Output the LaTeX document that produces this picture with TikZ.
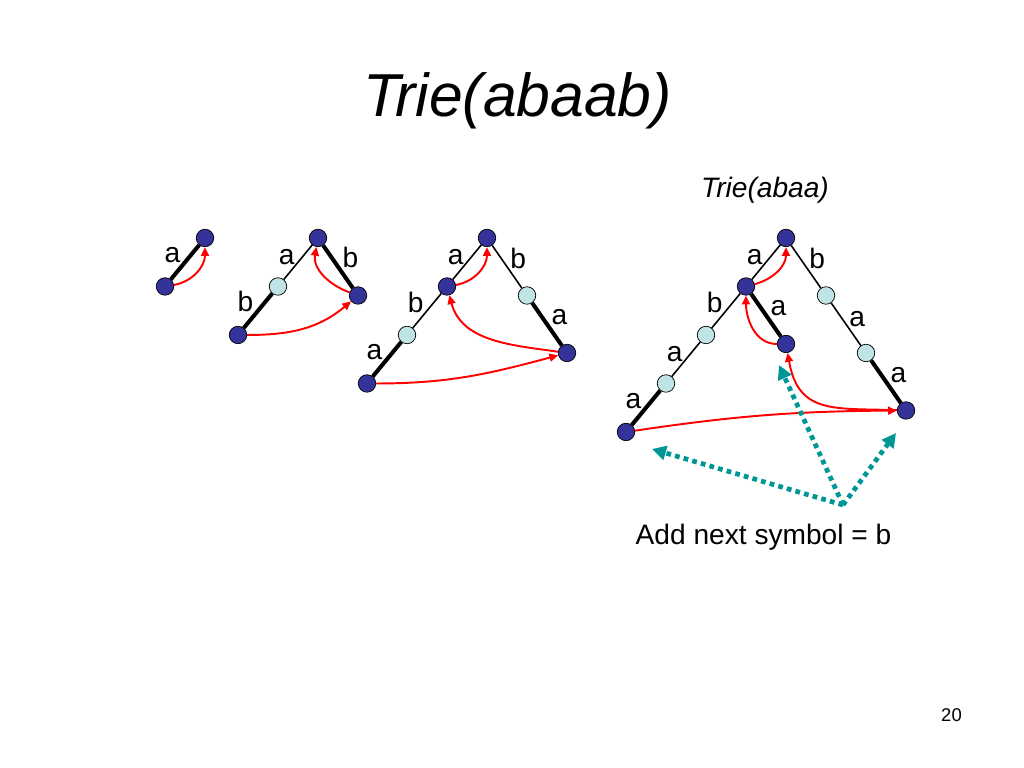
\documentclass[tikz,border=0pt]{standalone}
\usepackage{fontspec}
\setmainfont{Liberation Sans}
\usetikzlibrary{positioning,arrows.meta}
\definecolor{nodeblue}{RGB}{51,51,153}
\definecolor{nodecyan}{RGB}{190,228,230}
\definecolor{hintteal}{RGB}{0,150,150}

\begin{document}
\begin{tikzpicture}[auto,node distance=0.97cm and 0.8cm,on grid,
  dark/.style={circle,draw,fill=nodeblue,inner sep=0pt,minimum size=0.35cm},
  light/.style={circle,draw,fill=nodecyan,inner sep=0pt,minimum size=0.35cm},
  tie/.style={line width=0.9pt},
  hard/.style={line width=2.3pt},
  lbl/.style={font=\fontsize{16}{19}\selectfont,inner sep=1.5pt,text height=11.5pt,text depth=0pt,yshift=-3pt},
  lnk/.style={-{Triangle[length=5pt,width=4.5pt]},red,line width=1.1pt},
  hint/.style={-{Triangle[length=8pt,width=8pt]},hintteal,line width=2.7pt,dash pattern=on 2.7pt off 2.4pt}]

\useasboundingbox (0,0) rectangle (20.48,15.36);

\node[font=\fontsize{34.5}{40}\selectfont\itshape,anchor=base](title) at (10.35,13.02){Trie(abaab)};
\node[font=\fontsize{16}{19}\selectfont\itshape,anchor=base](sub) at (15.30,11.40){Trie(abaa)};
\node[font=\fontsize{16}{19}\selectfont,anchor=base](note) at (15.27,4.46){Add next symbol = b};
\node[font=\fontsize{10.5}{12}\selectfont,anchor=base](pg) at (19.03,0.92){20};

% trie(a)
\node[dark](r1) at (4.10,10.60){};
\node[dark](c1)[below left=of r1]{};
% trie(ab)
\node[dark](r2) at (6.36,10.60){};
\node[light](p2)[below left=of r2]{};
\node[dark](q2)[below left=of p2]{};
\node[dark](s2)[below right=1.15cm and 0.8cm of r2]{};
% trie(aba)
\node[dark](r3) at (9.74,10.60){};
\node[dark](a3)[below left=of r3]{};
\node[light](p3)[below left=of a3]{};
\node[dark](q3)[below left=of p3]{};
\node[light](s3)[below right=1.15cm and 0.8cm of r3]{};
\node[dark](t3)[below right=1.15cm and 0.8cm of s3]{};
% trie(abaa)
\node[dark](r4) at (15.72,10.60){};
\node[dark](a4)[below left=of r4]{};
\node[light](p4)[below left=of a4]{};
\node[light](q4)[below left=of p4]{};
\node[dark](d4)[below left=of q4]{};
\node[dark](m4)[below right=1.15cm and 0.8cm of a4]{};
\node[light](s4)[below right=1.15cm and 0.8cm of r4]{};
\node[light](t4)[below right=1.15cm and 0.8cm of s4]{};
\node[dark](u4)[below right=1.15cm and 0.8cm of t4]{};

\path(r1)edge[hard] node[lbl,swap]{a}(c1)
     (r2)edge[tie] node[lbl,swap]{a}(p2)
     (p2)edge[hard] node[lbl,swap]{b}(q2)
     (r2)edge[hard] node[lbl]{b}(s2)
     (r3)edge[tie] node[lbl,swap]{a}(a3)
     (a3)edge[tie] node[lbl,swap]{b}(p3)
     (p3)edge[hard] node[lbl,swap]{a}(q3)
     (r3)edge[tie] node[lbl]{b}(s3)
     (s3)edge[hard] node[lbl]{a}(t3)
     (r4)edge[tie] node[lbl,swap]{a}(a4)
     (a4)edge[tie] node[lbl,swap]{b}(p4)
     (p4)edge[tie] node[lbl,swap]{a}(q4)
     (q4)edge[hard] node[lbl,swap]{a}(d4)
     (a4)edge[hard] node[lbl]{a}(m4)
     (r4)edge[tie] node[lbl]{b}(s4)
     (s4)edge[tie] node[lbl]{a}(t4)
     (t4)edge[hard] node[lbl]{a}(u4);

% suffix links
\path(c1)edge[lnk,out=10,in=-90](r1)
     (s2)edge[lnk,out=160,in=-100](r2)
     (q2)edge[lnk,out=0,in=-140](s2)
     (a3)edge[lnk,out=10,in=-90](r3)
     (t3)edge[lnk,out=172,in=-75](a3)
     (q3)edge[lnk,out=0,in=-165](t3)
     (a4)edge[lnk,out=15,in=-90](r4)
     (m4)edge[lnk,out=180,in=-90](a4)
     (u4)edge[lnk,out=178,in=-80,looseness=1.3](m4)
     (d4)edge[lnk,bend left=4](u4);

\coordinate(src) at (16.86,5.26);
\coordinate(h1) at (13.04,6.38);
\coordinate(h2) at (15.58,8.06);
\coordinate(h3) at (17.92,6.70);
\path(src)edge[hint](h1) edge[hint](h2) edge[hint](h3);

\end{tikzpicture}
\end{document}
